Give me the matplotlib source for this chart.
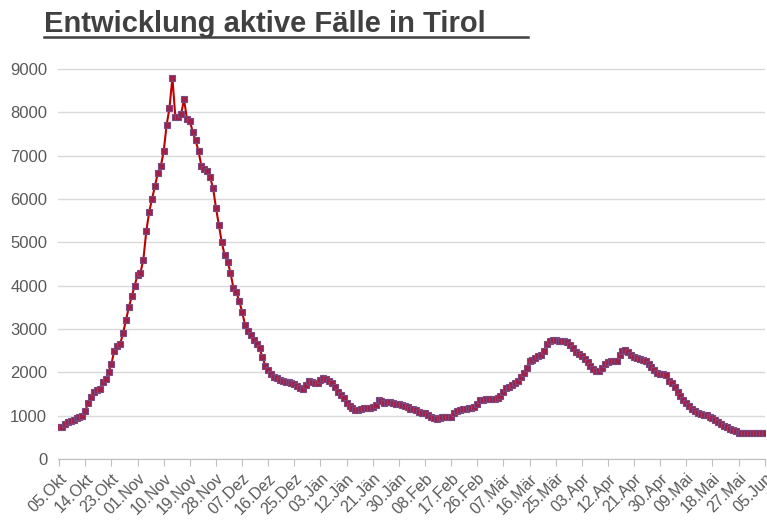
import matplotlib
matplotlib.use("Agg")
import matplotlib.pyplot as plt
import numpy as np
import pandas as pd

plt.rcParams['font.family'] = ['Liberation Sans', 'DejaVu Sans']

values = [
 750,740,800,860,880,900,950,980,1000,
 1100,1300,1420,1550,1600,1620,1780,1850,2000,
 2200,2500,2600,2650,2900,3200,3500,3750,4000,
 4250,4300,4600,5250,5700,6000,6300,6600,6750,
 7100,7700,8100,8800,7900,7900,7950,8300,7850,
 7800,7550,7350,7100,6750,6700,6650,6500,6250,
 5800,5400,5000,4700,4550,4300,3950,3850,3650,
 3400,3100,2950,2850,2750,2650,2550,2350,2150,
 2050,1950,1900,1870,1830,1800,1780,1770,1750,
 1720,1680,1640,1620,1700,1800,1780,1750,1760,
 1820,1860,1850,1800,1750,1650,1550,1480,1400,
 1300,1230,1180,1140,1130,1150,1170,1170,1180,
 1200,1250,1350,1330,1300,1310,1320,1300,1280,
 1260,1250,1220,1190,1160,1150,1120,1090,1070,
 1050,1020,980,950,920,950,960,960,960,
 980,1050,1100,1130,1150,1160,1170,1170,1200,
 1280,1350,1370,1380,1380,1390,1380,1400,1450,
 1550,1630,1660,1700,1750,1800,1900,1980,2100,
 2270,2290,2320,2380,2400,2500,2650,2730,2740,
 2740,2730,2730,2720,2690,2630,2560,2480,2420,
 2380,2300,2240,2150,2080,2040,2020,2100,2200,
 2240,2250,2260,2250,2400,2500,2520,2460,2400,
 2350,2320,2300,2280,2260,2200,2120,2050,1980,
 1970,1950,1940,1800,1750,1650,1550,1450,1360,
 1300,1220,1150,1100,1060,1040,1020,1010,980,
 940,900,860,800,760,730,700,680,650,
 610,600,600,600,600,600,590,590,590,590,
]
dates = pd.date_range("2020-10-05", periods=len(values), freq="D")
tick_labels = ["05.Okt","14.Okt","23.Okt","01.Nov","10.Nov","19.Nov","28.Nov","07.Dez",
               "16.Dez","25.Dez","03.Jän","12.Jän","21.Jän","30.Jän","08.Feb","17.Feb",
               "26.Feb","07.Mär","16.Mär","25.Mär","03.Apr","12.Apr","21.Apr","30.Apr",
               "09.Mai","18.Mai","27.Mai","05.Jun"]
y_ticks = list(range(0, 10000, 1000))

fig = plt.figure(figsize=(7.67, 5.27), dpi=100)
ax = fig.add_axes([0.076, 0.129, 0.921, 0.765])
x = np.arange(len(values))
ax.plot(x, values, color="#C00000", lw=1.5, marker="s", ms=4.5,
        mfc="#A0204A", mec="#7B4A80", mew=0.8, zorder=3)
ax.set_xlim(-0.3, len(values) - 1)
ax.set_ylim(0, 9300)
ax.set_yticks(y_ticks)
ax.set_yticklabels([str(v) for v in y_ticks], fontsize=12, color="#595959")
ax.grid(axis="y", color="#D9D9D9", lw=1)
ax.set_axisbelow(True)
tpos = np.arange(0, len(values), 9)
ax.set_xticks(tpos)
ax.set_xticklabels(tick_labels[:len(tpos)], rotation=45, ha="right", rotation_mode="anchor",
                   fontsize=11.5, color="#595959")
ax.tick_params(axis="y", length=0, pad=8)
ax.tick_params(axis="x", length=5, color="#BFBFBF", direction="out")
for s in ["left", "right", "top"]:
    ax.spines[s].set_visible(False)
ax.spines["bottom"].set_color("#BFBFBF")

fig.text(0.057, 0.955, "Entwicklung aktive Fälle in Tirol", fontsize=21, fontweight="bold",
         color="#404040", ha="left", va="center")
fig.add_artist(plt.Line2D([0.057, 0.689], [0.93, 0.93], color="#404040", lw=1.8))
fig.savefig("out.png", dpi=100)
